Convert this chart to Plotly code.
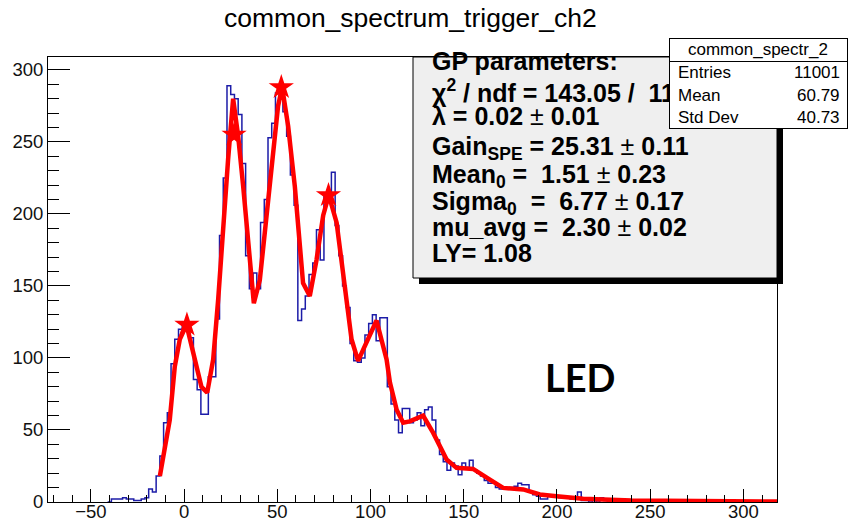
import plotly.graph_objects as go

# ---- histogram: bin width 2, bins centred on even values ----
BIN_WIDTH = 2
bin_centers = list(range(-40, 232, 2))
counts = [
    0, 2, 2, 2, 3, 2, 2, 1, 1, 2,            # -40 .. -22
    3, 9, 7, 18, 32, 55, 62, 96, 113, 120,    # -20 .. -2
    123, 121, 114, 85, 78, 61, 61, 87, 87, 127,  # 0 .. 18
    185, 225, 289, 283, 280, 269, 235, 171, 148, 159,  # 20 .. 38
    148, 194, 210, 253, 263, 284, 280, 271, 254, 227,  # 40 .. 58
    206, 126, 134, 143, 158, 166, 189, 168, 212, 212,  # 60 .. 78
    229, 192, 171, 150, 135, 110, 98, 97, 100, 116,    # 80 .. 98
    124, 130, 112, 128, 128, 80, 68, 57, 48, 65,       # 100 .. 118
    65, 55, 57, 62, 53, 64, 66, 57, 43, 33,            # 120 .. 138
    28, 22, 27, 25, 19, 27, 24, 29, 22, 20,            # 140 .. 158
    18, 15, 13, 13, 10, 9, 9, 10, 10, 11,              # 160 .. 178
    13, 12, 12, 7, 5, 4, 2, 2, 4, 4,                   # 180 .. 198
    4, 3, 4, 3, 2, 2, 7, 1, 1, 0,                      # 200 .. 218
    1, 0, 3, 1, 0, 0,                                  # 220 .. 230
]

# ---- GP fit curve ----
fit_x = [-13, -11.3, -7.7, -5, -2.3, 1.3, 5.7, 9.3, 12.4, 15.6, 18.3, 20.9,
         23.6, 26.3, 29, 31.7, 34.3, 37.4, 40.6, 44.2, 47.7, 50.4, 52.6, 55.8,
         59.4, 62.1, 63.8, 67.4, 71, 74.6, 77.6, 81.8, 85.3, 89.8, 93.3, 97.8,
         103.2, 108.6, 110.4, 114, 117.5, 121, 128.2, 133.6, 140.8, 146.1, 155,
         164, 171.1, 181.9, 190.8, 199.8, 214, 240, 318]
fit_y = [18, 32, 57, 94, 113, 123, 99, 80, 76, 99, 141, 192,
         238, 280, 254, 219, 178, 138, 154, 196, 243, 275, 288, 261,
         219, 178, 152, 143, 168, 199, 213, 194, 157, 113, 98, 111,
         126, 99, 83, 64, 55, 56, 60, 48, 29.5, 23.7, 23,
         15.6, 9.8, 8.7, 5.2, 4, 2.2, 1, 0.3]

# photo-electron peak markers
peak_x = [1.51, 26.82, 52.13, 77.44]
peak_y = [123, 255, 288, 213]

gp_lines = [
    "<b>GP parameters:</b>",
    "<b>\u03c7<sup>2</sup> / ndf = 143.05 /  117</b>",
    "<b>\u03bb = 0.02 </b>\u00b1<b> 0.01</b>",
    "<b>Gain<sub>SPE</sub> = 25.31 </b>\u00b1<b> 0.11</b>",
    "<b>Mean<sub>0</sub> =  1.51 </b>\u00b1<b> 0.23</b>",
    "<b>Sigma<sub>0</sub>  =  6.77 </b>\u00b1<b> 0.17</b>",
    "<b>mu_avg =  2.30 </b>\u00b1<b> 0.02</b>",
    "<b>LY= 1.08</b>",
]

stat_names = ["Entries", "Mean", "Std Dev"]
stat_values = ["11001", "60.79", "40.73"]

# ---- page geometry (pixels) ----
W, H = 851, 522
L, R, T, B = 48, 74, 57, 20
PW, PH = W - L - R, H - T - B


def px(x):
    return (x - L) / PW


def py(y):
    return (H - B - y) / PH


FONT = "Liberation Sans, Arial, Helvetica, sans-serif"

edges = [c - BIN_WIDTH / 2 for c in bin_centers] + [bin_centers[-1] + BIN_WIDTH / 2]
step_y = counts + [counts[-1]]

fig = go.Figure()
fig.add_trace(go.Scatter(
    x=edges, y=step_y, mode="lines", line_shape="hv",
    line=dict(color="#1c1ca8", width=1.5), hoverinfo="skip"))
fig.add_trace(go.Scatter(
    x=fit_x, y=fit_y, mode="lines",
    line=dict(color="#ff0000", width=4.5), hoverinfo="skip"))
fig.add_trace(go.Scatter(
    x=peak_x, y=peak_y, mode="markers",
    marker=dict(symbol="star", size=19, color="#ff0000"), hoverinfo="skip"))

axis_common = dict(
    ticks="inside", tickwidth=1, tickcolor="black", automargin=False,
    showline=True, linecolor="black", linewidth=1, mirror=True,
    showgrid=False, zeroline=False,
    tickfont=dict(family=FONT, size=18.5, color="#111"),
)
fig.update_xaxes(range=[-73, 318], tickmode="linear", tick0=0, dtick=50, ticklen=13,
                 ticklabelstandoff=-7,
                 minor=dict(ticks="inside", ticklen=7, tick0=0, dtick=10,
                            tickcolor="black", tickwidth=1),
                 **axis_common)
fig.update_yaxes(range=[0, 309], tickmode="linear", tick0=0, dtick=50, ticklen=22,
                 minor=dict(ticks="inside", ticklen=11, tick0=0, dtick=10,
                            tickcolor="black", tickwidth=1),
                 **axis_common)

shapes = [
    # shadow of the parameter box
    dict(type="rect", xref="paper", yref="paper", layer="above",
         x0=px(419), x1=px(783), y0=py(284), y1=py(63),
         fillcolor="black", line=dict(width=0)),
    # parameter box
    dict(type="rect", xref="paper", yref="paper", layer="above",
         x0=px(413), x1=px(777), y0=py(278), y1=py(57),
         fillcolor="#efefef", line=dict(color="black", width=1)),
]

annotations = [
    dict(text="common_spectrum_trigger_ch2", xref="paper", yref="paper",
         x=px(410), y=py(18), xanchor="center", yanchor="middle", showarrow=False,
         font=dict(family=FONT, size=26.5, color="black")),
    dict(text="<b>LED</b>", xref="paper", yref="paper",
         x=px(580), y=py(377), xanchor="center", yanchor="middle", showarrow=False,
         font=dict(family="Lato, Open Sans, sans-serif", size=38, color="black")),
]

gp_centers = [61, 91, 116.5, 148, 176, 203, 226.5, 253]
for txt, yc in zip(gp_lines, gp_centers):
    annotations.append(dict(
        text=txt, xref="paper", yref="paper", x=px(430), y=py(yc),
        xanchor="left", yanchor="middle", showarrow=False, align="left",
        font=dict(family=FONT, size=25, color="black")))

# statistics box (drawn over the parameter text)
annotations.append(dict(
    text=" ", xref="paper", yref="paper", x=px(669), y=py(38),
    xanchor="left", yanchor="top", showarrow=False, width=177, height=23,
    bgcolor="white", bordercolor="black", borderwidth=1, borderpad=0))
annotations.append(dict(
    text=" ", xref="paper", yref="paper", x=px(669), y=py(61),
    xanchor="left", yanchor="top", showarrow=False, width=177, height=66,
    bgcolor="white", bordercolor="black", borderwidth=1, borderpad=0))
annotations.append(dict(
    text="common_spectr_2", xref="paper", yref="paper", x=px(758), y=py(49.5),
    xanchor="center", yanchor="middle", showarrow=False,
    font=dict(family=FONT, size=17, color="black")))
for i, (name, val) in enumerate(zip(stat_names, stat_values)):
    yc = 73 + 22 * i
    annotations.append(dict(
        text=name, xref="paper", yref="paper", x=px(676), y=py(yc),
        xanchor="left", yanchor="middle", showarrow=False,
        font=dict(family=FONT, size=17, color="black")))
    annotations.append(dict(
        text=val, xref="paper", yref="paper", x=px(842), y=py(yc),
        xanchor="right", yanchor="middle", showarrow=False,
        font=dict(family=FONT, size=17, color="black")))

fig.update_layout(
    width=W, height=H, margin=dict(l=L, r=R, t=T, b=B, autoexpand=False),
    paper_bgcolor="white", plot_bgcolor="white", showlegend=False,
    shapes=shapes, annotations=annotations,
)

fig.write_html("out.html", config={"displayModeBar": False})
